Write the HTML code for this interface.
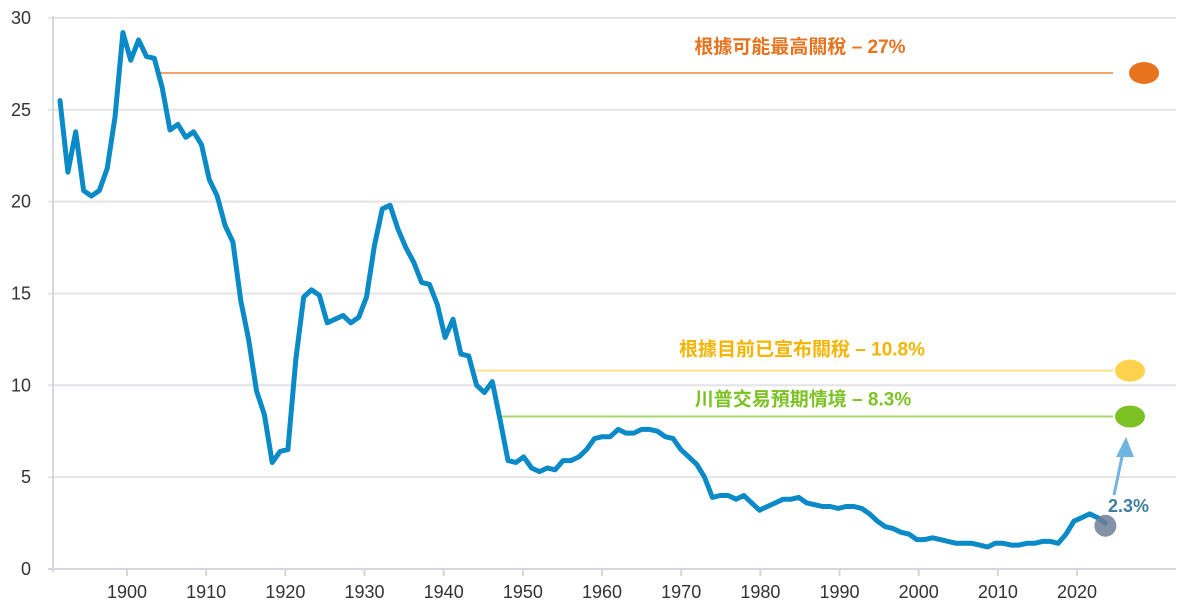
<!DOCTYPE html>
<html><head><meta charset="utf-8"><style>
html,body{margin:0;padding:0;background:#fff;}
svg{display:block;font-family:"Liberation Sans","Noto Sans CJK TC",sans-serif;}
</style></head><body>
<svg id="chart" width="1190" height="608" viewBox="0 0 1190 608" xmlns="http://www.w3.org/2000/svg">
<g id="grid"></g>
<g id="yaxis"></g>
<g id="xaxis"></g>
<g id="refs"></g>
<g id="series"></g>
</svg>
<script>
const startYear = 1891;
const tariffValues = [25.5,21.6,23.8,20.6,20.3,20.6,21.8,24.6,29.2,27.7,28.8,27.9,27.8,26.2,23.9,24.2,23.5,23.8,23.1,21.2,20.3,18.7,17.8,14.6,12.5,9.7,8.4,5.8,6.4,6.5,11.4,14.8,15.2,14.9,13.4,13.6,13.8,13.4,13.7,14.8,17.6,19.6,19.8,18.5,17.5,16.7,15.6,15.5,14.4,12.6,13.6,11.7,11.6,10.0,9.6,10.2,8.1,5.9,5.8,6.1,5.5,5.3,5.5,5.4,5.9,5.9,6.1,6.5,7.1,7.2,7.2,7.6,7.4,7.4,7.6,7.6,7.5,7.2,7.1,6.5,6.1,5.7,5.0,3.9,4.0,4.0,3.8,4.0,3.6,3.2,3.4,3.6,3.8,3.8,3.9,3.6,3.5,3.4,3.4,3.3,3.4,3.4,3.3,3.0,2.6,2.3,2.2,2.0,1.9,1.6,1.6,1.7,1.6,1.5,1.4,1.4,1.4,1.3,1.2,1.4,1.4,1.3,1.3,1.4,1.4,1.5,1.5,1.4,1.9,2.6,2.8,3.0,2.8,2.5];
const yTicks = [0,5,10,15,20,25,30];
const xTicks = [1900,1910,1920,1930,1940,1950,1960,1970,1980,1990,2000,2010,2020];
const scenarioLabels = ["根據可能最高關稅  – 27%","根據目前已宣布關稅  – 10.8%","川普交易預期情境  – 8.3%"];
const scenarioValues = [27,10.8,8.3];
const currentValue = 2.3;
const currentLabel = "2.3%";

const NS="http://www.w3.org/2000/svg";
const X = yr => 127 + (yr-1900)*7.917;
const XS = yr => 60 + (yr-1891)*7.86;
const Y = v => 569 - v*18.37;
function mk(parent, tag, attrs){const e=document.createElementNS(NS,tag);for(const k in attrs)e.setAttribute(k,attrs[k]);parent.appendChild(e);return e;}

const grid=document.getElementById('grid'), yax=document.getElementById('yaxis'), xax=document.getElementById('xaxis');
yTicks.forEach(t=>{
  const l=mk(grid,'line',{x1:48,x2:1176,y1:Y(t),y2:Y(t),stroke:t===0?'#d6d6dc':'#e4e4e8','stroke-width':2});
  
  
  const tx=mk(yax,'text',{x:31,y:Y(t)+6,'text-anchor':'end','font-size':18,fill:'#333'});
  tx.textContent=t;
  
  
});
const axl=mk(yax,'line',{x1:53,x2:53,y1:16,y2:572,stroke:'#d6d6dc','stroke-width':2});


xTicks.forEach(t=>{
  const tk=mk(xax,'line',{x1:X(t),x2:X(t),y1:569,y2:576,stroke:'#d6d6dc','stroke-width':2});
  
  
  const tx=mk(xax,'text',{x:X(t),y:598,'text-anchor':'middle','font-size':18,fill:'#333'});
  tx.textContent=t;
  
  
});

const refs=document.getElementById('refs');
const sColors=['#e8731e','#ffd24d','#7cc225'];
const sLine=['#f0a46a','#ffe08a','#a6d870'];
const sStart=[1904,1944,1947];
const sTextColor=['#e8731e','#f5b400','#7cc225'];
const sLabelX=[800,802,803];
const sLabelDy=[-20,-15,-11];
const sDotX=[1144,1130,1130];
scenarioValues.forEach((v,i)=>{
  const ln=mk(refs,'line',{x1:X(sStart[i]),x2:1113,y1:Y(v),y2:Y(v),stroke:sLine[i],'stroke-width':2});
  
  
  const d=mk(refs,'ellipse',{cx:sDotX[i],cy:Y(v),rx:15,ry:11,fill:sColors[i]});
  
  
  const tx=mk(refs,'text',{x:sLabelX[i],y:Y(v)+sLabelDy[i],'text-anchor':'middle','font-size':19,'font-weight':'bold',fill:sTextColor[i]});
  tx.textContent=scenarioLabels[i];
  tx.setAttribute('xml:space','preserve');
  
  
});

const series=document.getElementById('series');
const pts=tariffValues.map((v,i)=>XS(startYear+i).toFixed(1)+','+Y(v).toFixed(1)).join(' ');
const pl=mk(series,'polyline',{points:pts,fill:'none',stroke:'#0a8ac6','stroke-width':5,'stroke-linejoin':'round','stroke-linecap':'round'});


const lastX=XS(startYear+tariffValues.length-1);
const cd=mk(series,'circle',{cx:lastX,cy:Y(currentValue)-1,r:11,fill:'#6f7f98','fill-opacity':0.85});


const ar=mk(series,'line',{x1:1114,y1:495,x2:1123,y2:452,stroke:'#6fb5e0','stroke-width':3});


const ah=mk(series,'polygon',{points:'1126,437 1116,457 1134,457',fill:'#6fb5e0'});


const ct=mk(series,'text',{x:1108,y:512,'font-size':18,'font-weight':'bold',fill:'#3d7fa0'});
ct.textContent=currentLabel;


</script>
</body></html>
